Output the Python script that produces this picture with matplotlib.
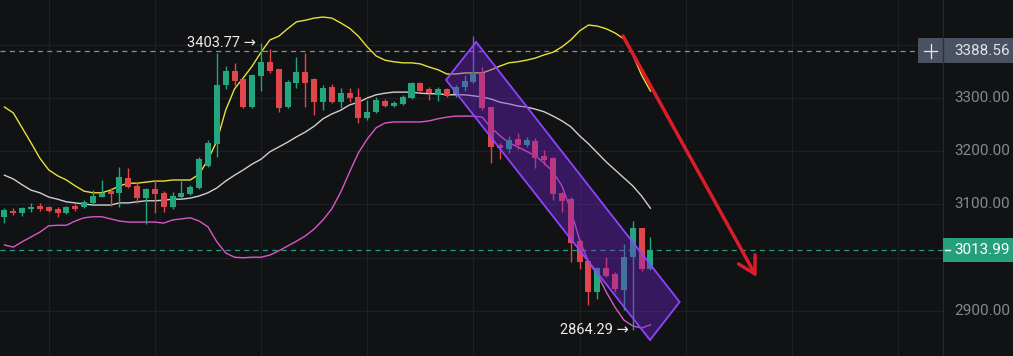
import matplotlib.pyplot as plt
from matplotlib.patches import Polygon, Rectangle
from matplotlib.transforms import blended_transform_factory
import numpy as np

plt.rcParams['font.family'] = ['Roboto', 'DejaVu Sans']

# candle data
opens = [3076.5, 3087.8, 3084.0, 3091.5, 3097.2, 3095.3, 3091.5, 3084.0, 3097.2, 3095.3,
         3102.8, 3114.1, 3125.3, 3121.6, 3149.8, 3134.7, 3112.2, 3129.1, 3121.6, 3095.3,
         3114.1, 3119.7, 3131.0, 3172.3, 3213.6, 3324.4, 3350.7, 3335.7, 3283.1, 3341.3,
         3367.6, 3354.5, 3283.1, 3328.2, 3348.8, 3335.0, 3292.5, 3320.0, 3292.5, 3309.4,
         3301.9, 3262.4, 3273.7, 3294.4, 3285.0, 3288.7, 3300.0, 3328.2, 3316.9, 3305.6,
         3316.9, 3307.5, 3320.7, 3330.0, 3347.0, 3283.0, 3211.7, 3204.0, 3223.0, 3212.0,
         3219.0, 3191.0, 3187.0, 3122.0, 3110.0, 3031.0, 2994.0, 2936.0, 2981.0, 2970.0,
         2939.0, 3001.0, 3056.0, 2979.0]
highs = [3093.4, 3093.4, 3095.3, 3102.8, 3102.8, 3097.2, 3095.3, 3097.2, 3101.0, 3108.4,
         3127.2, 3146.0, 3131.0, 3170.4, 3168.5, 3142.2, 3131.0, 3146.0, 3125.3, 3123.5,
         3144.1, 3136.6, 3189.2, 3221.1, 3384.5, 3360.1, 3365.7, 3337.0, 3345.1, 3403.77,
         3392.0, 3355.0, 3333.8, 3377.0, 3384.5, 3337.0, 3324.4, 3326.3, 3318.8, 3318.8,
         3318.8, 3296.2, 3301.9, 3298.1, 3294.4, 3305.6, 3330.0, 3330.0, 3320.7, 3320.7,
         3318.8, 3324.4, 3343.2, 3367.6, 3358.2, 3283.0, 3215.5, 3229.0, 3234.0, 3227.0,
         3225.0, 3202.0, 3189.0, 3124.0, 3114.0, 3035.0, 2998.0, 2983.0, 3001.0, 2973.0,
         3026.0, 3069.0, 3056.0, 3039.0]
lows = [3065.3, 3080.3, 3078.4, 3085.9, 3087.8, 3085.9, 3076.5, 3083.0, 3087.8, 3093.4,
        3101.0, 3114.0, 3097.2, 3095.3, 3131.0, 3102.8, 3063.4, 3084.0, 3085.9, 3091.5,
        3112.2, 3117.8, 3129.1, 3170.4, 3189.2, 3316.9, 3322.5, 3281.2, 3281.2, 3313.1,
        3347.0, 3274.0, 3282.0, 3318.8, 3283.1, 3268.1, 3277.5, 3290.6, 3281.2, 3292.5,
        3253.0, 3258.7, 3271.8, 3283.1, 3283.1, 3286.9, 3298.1, 3311.3, 3296.2, 3294.4,
        3301.9, 3301.9, 3313.1, 3328.2, 3277.5, 3178.0, 3185.4, 3197.0, 3204.0, 3208.0,
        3168.0, 3174.0, 3108.0, 3086.0, 2992.0, 2979.0, 2911.0, 2923.0, 2964.0, 2936.0,
        2902.0, 2864.29, 2975.0, 2977.0]
closes = [3089.7, 3084.0, 3093.4, 3095.3, 3091.5, 3087.8, 3084.0, 3095.3, 3091.5, 3104.7,
          3116.0, 3121.6, 3119.7, 3151.6, 3132.9, 3112.2, 3129.1, 3119.7, 3095.3, 3116.0,
          3121.6, 3132.9, 3185.4, 3215.5, 3324.4, 3350.7, 3331.9, 3283.1, 3343.2, 3367.6,
          3350.7, 3281.2, 3330.0, 3348.8, 3328.2, 3292.5, 3318.8, 3292.5, 3309.4, 3300.0,
          3262.4, 3273.7, 3296.2, 3285.0, 3290.6, 3301.9, 3328.2, 3313.1, 3309.4, 3316.9,
          3303.8, 3320.7, 3331.9, 3347.0, 3281.2, 3208.0, 3206.0, 3221.0, 3212.0, 3221.0,
          3187.0, 3184.0, 3120.0, 3107.0, 3028.0, 2992.0, 2936.0, 2981.0, 2966.0, 2941.0,
          3001.0, 3056.0, 2979.0, 3013.99]

# Bollinger bands
upper = [3283, 3272, 3244, 3216, 3187, 3165, 3154, 3146, 3135, 3125,
         3122, 3122, 3127, 3135, 3140, 3140, 3142, 3144, 3144, 3146,
         3146, 3146, 3157, 3184, 3219, 3277, 3317, 3338, 3360, 3386,
         3409, 3416, 3430, 3443, 3446, 3450, 3452, 3450, 3441, 3431,
         3416, 3396, 3379, 3371, 3368, 3366, 3366, 3364, 3358, 3353,
         3345, 3345, 3347, 3347, 3347, 3353, 3360, 3366, 3368, 3371,
         3375, 3381, 3386, 3396, 3409, 3426, 3437, 3435, 3430, 3422,
         3411, 3381, 3343, 3313]
middle = [3155, 3148, 3137, 3127, 3122, 3114, 3110, 3105, 3103, 3101,
          3099, 3099, 3099, 3103, 3103, 3105, 3107, 3107, 3108, 3110,
          3110, 3112, 3116, 3122, 3131, 3144, 3155, 3165, 3176, 3185,
          3199, 3208, 3217, 3227, 3236, 3247, 3261, 3270, 3277, 3287,
          3292, 3300, 3306, 3309, 3311, 3311, 3311, 3309, 3308, 3308,
          3306, 3306, 3306, 3304, 3302, 3298, 3292, 3289, 3285, 3283,
          3279, 3274, 3266, 3257, 3246, 3229, 3214, 3197, 3180, 3165,
          3150, 3135, 3116, 3093]
lower = [3024, 3020, 3030, 3039, 3048, 3060, 3061, 3061, 3069, 3075,
         3077, 3077, 3073, 3069, 3067, 3067, 3067, 3067, 3065, 3071,
         3073, 3075, 3069, 3058, 3030, 3009, 3001, 3000, 3001, 3001,
         3005, 3013, 3022, 3031, 3041, 3054, 3071, 3092, 3123, 3161,
         3197, 3223, 3244, 3253, 3255, 3255, 3255, 3255, 3257, 3261,
         3264, 3266, 3266, 3266, 3264, 3244, 3229, 3216, 3208, 3200,
         3191, 3178, 3161, 3135, 3090, 3033, 2992, 2969, 2936, 2907,
         2883, 2872, 2868, 2874]

price_ticks = [3300, 3200, 3100, 2900]
last_price = 3013.99
cross_price = 3388.56
high_idx, low_idx = 29, 71

# drawings (bar index, price)
channel = [(49.9, 3333.8), (53.3, 3405.2), (76.3, 2916.9), (72.95, 2845.5)]
trend_start = (69.9, 3416.4)
trend_end = (85.0, 2963.8)

BG = '#111214'
GREEN = '#23a67e'
RED = '#e0474c'

fig = plt.figure(figsize=(10.13, 3.56), dpi=100, facecolor=BG)
ax = fig.add_axes([0, 0, 1, 1])
ax.set_facecolor(BG)
ax.set_xlim(-0.5, 113.97)
ax.set_ylim(2815.5, 3484)
ax.axis('off')
edge = 106.05           # right edge of the price pane (bar units)
edge_frac = 943 / 1013

# grid
for p in range(2900, 3500, 100):
    ax.plot([-0.5, edge], [p, p], color='#1f2023', lw=0.9, zorder=0)
for v in np.arange(5, edge, 12):
    ax.axvline(v, color='#1f2023', lw=0.9, zorder=0)
ax.axvline(edge, color='#26272b', lw=0.9, zorder=0)

# bands
idx = np.arange(len(closes))
ax.plot(idx, upper, color='#e8e03a', lw=1.0, zorder=2)
ax.plot(idx, middle, color='#cfcfcf', lw=1.0, zorder=2)
ax.plot(idx, lower, color='#d957c8', lw=1.0, zorder=2)

# candles
o = np.array(opens); c = np.array(closes)
cols = [GREEN if cc >= oo else RED for oo, cc in zip(o, c)]
ax.vlines(idx, lows, highs, colors=cols, lw=1.0, zorder=3)
ax.bar(idx, np.maximum(np.abs(c - o), 1.5), bottom=np.minimum(o, c), width=0.68,
       color=cols, zorder=3)

# reference lines
ax.plot([-0.5, 103.2], [cross_price] * 2, color='#8d8f94', lw=0.9, dashes=(4, 3.5), zorder=1)
ax.plot([-0.5, edge], [last_price] * 2, color='#2a9d7c', lw=0.9, dashes=(4, 3.5), zorder=1)

# channel drawing
ax.add_patch(Polygon(channel, closed=True, facecolor=(118/255, 34/255, 215/255, 0.38),
                     edgecolor='#8e44ff', lw=1.3, zorder=5))
ax.vlines(53, 3367, 3417, color='#8e44ff', lw=1.0, zorder=5)

# trend arrow
ax.annotate('', xy=trend_end, xytext=trend_start,
            arrowprops=dict(arrowstyle='->,head_length=1.2,head_width=0.68',
                            color='#dc1c28', lw=2.5, shrinkA=0, shrinkB=0),
            zorder=6)

# high / low markers
ax.text(high_idx - 0.6, highs[high_idx], f'{highs[high_idx]:.2f} →', ha='right', va='center',
        color='#ececec', fontsize=10.5, zorder=7)
ax.text(low_idx - 0.4, lows[low_idx], f'{lows[low_idx]:.2f} →', ha='right', va='center',
        color='#ececec', fontsize=10.5, zorder=7)

# price scale
tr = blended_transform_factory(ax.transAxes, ax.transData)
for p in price_ticks:
    ax.text(0.997, p, f'{p:.2f}', transform=tr, ha='right', va='center',
            color='#85888e', fontsize=11)

x0 = 918 / 1013
ax.add_patch(Rectangle((x0, cross_price - 23.5), 1 - x0, 47, transform=tr,
                       facecolor='#4a5161', edgecolor='none', zorder=8, clip_on=False))
ax.plot([edge_frac, edge_frac], [cross_price - 23.5, cross_price + 23.5], transform=tr,
        color='#2c313b', lw=1.0, zorder=9)
ax.plot([924 / 1013, 937 / 1013], [cross_price] * 2, transform=tr, color='#e6e8ec', lw=0.9, zorder=9)
ax.plot([930.5 / 1013] * 2, [cross_price - 13, cross_price + 13], transform=tr,
        color='#e6e8ec', lw=0.9, zorder=9)
ax.text(0.997, cross_price, f'{cross_price:.2f}', transform=tr, ha='right', va='center',
        color='#dfe2e8', fontsize=11, zorder=9)

ax.add_patch(Rectangle((edge_frac, last_price - 22.5), 1 - edge_frac, 45, transform=tr,
                       facecolor='#25a07a', edgecolor='none', zorder=8, clip_on=False))
ax.plot([945 / 1013, 950 / 1013], [last_price] * 2, transform=tr, color='white', lw=1.0, zorder=9)
ax.text(0.997, last_price, f'{last_price:.2f}', transform=tr, ha='right', va='center',
        color='white', fontsize=11, zorder=9)

fig.savefig('out.png', dpi=100, facecolor=BG)
